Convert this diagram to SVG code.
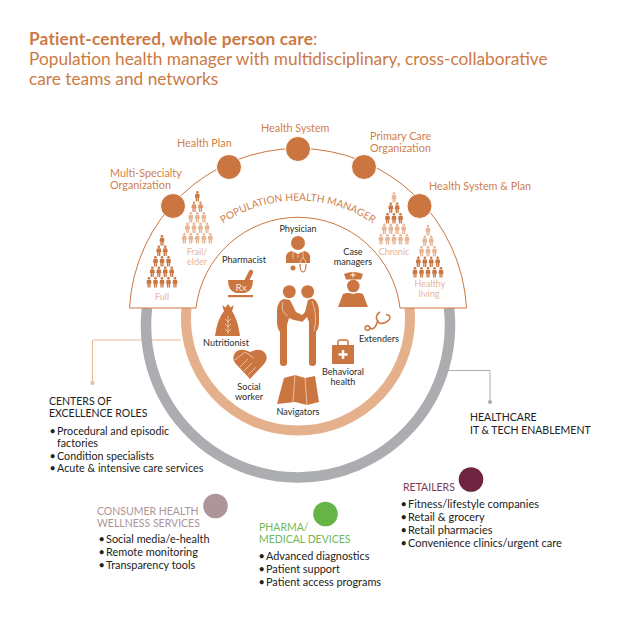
<svg xmlns="http://www.w3.org/2000/svg" xmlns:xlink="http://www.w3.org/1999/xlink" width="618" height="618" viewBox="0 0 618 618">
<style>
text{font-family:"Lato","Open Sans","Liberation Sans",sans-serif}
.title{font-size:17.300px;fill:#CC7A45}
.org{font-size:10.800px;fill:#CF7F4C}
.role{font-size:9.100px;fill:#2b2b2b;text-anchor:middle}
.seg{font-size:9px;text-anchor:middle;fill:#E7B593}
.head{font-size:10.500px;fill:#222}
.item{font-size:10.900px;fill:#222}
.dot{fill:#CB7640;stroke:#fff;stroke-width:1}
.ic{fill:#CB7640}
.wl{fill:none;stroke:#F3DCCB;stroke-width:.7}
.dk{fill:#CB7640}.lt{fill:#E7B593}
</style>
<defs>
<symbol id="p" viewBox="0 0 6 10.4" width="6" height="10.4" overflow="visible">
<circle cx="3" cy="1.3" r="1.300"/>
<path d="M1 3Q3 2.500 5 3L5.500 6.500H4.700L4.500 10.400H3.250V6.800H2.750V10.400H1.500L1.300 6.500H.5Z"/>
</symbol>
</defs>
<g id="title">
<text class="title" x="29" y="45"><tspan font-weight="700" letter-spacing=".17">Patient-centered, whole person care</tspan>:</text>
<text class="title" x="29" y="65">Population health manager with multidisciplinary, cross-collaborative</text>
<text class="title" x="29" y="85">care teams and networks</text>
</g>
<g id="connectors" fill="none">
<path d="M181 340H92.500V383" stroke="#E9B999" stroke-width="1"/>
<circle cx="92.500" cy="383" r="2" fill="#E9B999"/>
<path d="M448 370.500H490V402" stroke="#ABADB0" stroke-width="1"/>
<circle cx="490" cy="402" r="2" fill="#ABADB0"/>
</g>
<g id="it-ring"><path d="M147 308A152 152 0 1 0 449 308" fill="none" stroke="#ABADB0" stroke-width="10.500"/></g>
<g id="coe-ring"><path d="M186.500 308A112 112 0 1 0 409.500 308" fill="none" stroke="#E5B08C" stroke-width="10"/></g>
<g id="population-health-manager">
<path d="M129.500 308A168.750 168.750 0 0 1 466.500 308H400A102.700 102.700 0 0 0 196 308Z" fill="#fff" stroke="#CB7640" stroke-width="1"/>
<path id="phm-arc" d="M203.300 239.800A134 134 0 0 1 392.700 239.800" fill="none"/>
<text font-size="10.200" fill="#CF7F4C"><textPath href="#phm-arc" xlink:href="#phm-arc" startOffset="50%" text-anchor="middle">POPULATION HEALTH MANAGER</textPath></text>
</g>
<g id="org-multi-specialty"><circle class="dot" cx="173" cy="206" r="12.500"/><text class="org" x="110" y="177">Multi-Specialty</text><text class="org" x="110" y="189">Organization</text></g>
<g id="org-health-plan"><circle class="dot" cx="229" cy="167" r="12.500"/><text class="org" x="177" y="147">Health Plan</text></g>
<g id="org-health-system"><circle class="dot" cx="298" cy="149" r="12.500"/><text class="org" x="261" y="132">Health System</text></g>
<g id="org-primary-care"><circle class="dot" cx="364" cy="167" r="12.500"/><text class="org" x="370" y="140">Primary Care</text><text class="org" x="370" y="152">Organization</text></g>
<g id="org-health-system-plan"><circle class="dot" cx="419.500" cy="206" r="12.500"/><text class="org" x="429" y="190">Health System &amp; Plan</text></g>
<g id="seg-full">
<g class="dk"><use href="#p" xlink:href="#p" x="159" y="235"/><use href="#p" xlink:href="#p" x="155.800" y="245.500"/><use href="#p" xlink:href="#p" x="162.200" y="245.500"/><use href="#p" xlink:href="#p" x="152.500" y="256"/><use href="#p" xlink:href="#p" x="159" y="256"/><use href="#p" xlink:href="#p" x="165.500" y="256"/><use href="#p" xlink:href="#p" x="149.300" y="266.500"/><use href="#p" xlink:href="#p" x="155.800" y="266.500"/><use href="#p" xlink:href="#p" x="162.200" y="266.500"/><use href="#p" xlink:href="#p" x="168.700" y="266.500"/><use href="#p" xlink:href="#p" x="146" y="277"/><use href="#p" xlink:href="#p" x="152.500" y="277"/><use href="#p" xlink:href="#p" x="159" y="277"/><use href="#p" xlink:href="#p" x="165.500" y="277"/><use href="#p" xlink:href="#p" x="172" y="277"/></g>
<text class="seg" x="162" y="300">Full</text>
</g>
<g id="seg-frail">
<g class="dk"><use href="#p" xlink:href="#p" x="194.300" y="191"/></g>
<g fill="#DB9469"><use href="#p" xlink:href="#p" x="191" y="201.500"/><use href="#p" xlink:href="#p" x="197.500" y="201.500"/></g>
<g class="lt"><use href="#p" xlink:href="#p" x="187.800" y="212"/><use href="#p" xlink:href="#p" x="194.300" y="212"/><use href="#p" xlink:href="#p" x="200.800" y="212"/><use href="#p" xlink:href="#p" x="184.500" y="222.500"/><use href="#p" xlink:href="#p" x="191" y="222.500"/><use href="#p" xlink:href="#p" x="197.500" y="222.500"/><use href="#p" xlink:href="#p" x="204" y="222.500"/><use href="#p" xlink:href="#p" x="181.300" y="233"/><use href="#p" xlink:href="#p" x="187.800" y="233"/><use href="#p" xlink:href="#p" x="194.300" y="233"/><use href="#p" xlink:href="#p" x="200.800" y="233"/><use href="#p" xlink:href="#p" x="207.300" y="233"/></g>
<text class="seg" x="197" y="255">Frail/</text><text class="seg" x="197" y="265">elder</text>
</g>
<g id="seg-chronic">
<g class="lt"><use href="#p" xlink:href="#p" x="391" y="192"/></g>
<g class="dk"><use href="#p" xlink:href="#p" x="387.800" y="202.500"/><use href="#p" xlink:href="#p" x="394.200" y="202.500"/><use href="#p" xlink:href="#p" x="384.500" y="213"/><use href="#p" xlink:href="#p" x="391" y="213"/><use href="#p" xlink:href="#p" x="397.500" y="213"/></g>
<g class="lt"><use href="#p" xlink:href="#p" x="381.300" y="223.500"/><use href="#p" xlink:href="#p" x="387.800" y="223.500"/><use href="#p" xlink:href="#p" x="394.200" y="223.500"/><use href="#p" xlink:href="#p" x="400.700" y="223.500"/><use href="#p" xlink:href="#p" x="378" y="234"/><use href="#p" xlink:href="#p" x="384.500" y="234"/><use href="#p" xlink:href="#p" x="391" y="234"/><use href="#p" xlink:href="#p" x="397.500" y="234"/><use href="#p" xlink:href="#p" x="404" y="234"/></g>
<text class="seg" x="394" y="255">Chronic</text>
</g>
<g id="seg-healthy">
<g class="lt"><use href="#p" xlink:href="#p" x="425" y="225"/><use href="#p" xlink:href="#p" x="421.800" y="235.500"/><use href="#p" xlink:href="#p" x="428.200" y="235.500"/><use href="#p" xlink:href="#p" x="418.500" y="246"/><use href="#p" xlink:href="#p" x="425" y="246"/><use href="#p" xlink:href="#p" x="431.500" y="246"/></g>
<g class="dk"><use href="#p" xlink:href="#p" x="415.300" y="256.500"/><use href="#p" xlink:href="#p" x="421.800" y="256.500"/><use href="#p" xlink:href="#p" x="428.200" y="256.500"/><use href="#p" xlink:href="#p" x="434.700" y="256.500"/><use href="#p" xlink:href="#p" x="412" y="267"/><use href="#p" xlink:href="#p" x="418.500" y="267"/><use href="#p" xlink:href="#p" x="425" y="267"/><use href="#p" xlink:href="#p" x="431.500" y="267"/><use href="#p" xlink:href="#p" x="438" y="267"/></g>
<text class="seg" x="430" y="286.500">Healthy</text><text class="seg" x="429" y="296.500">living</text>
</g>
<g id="role-physician">
<circle class="ic" cx="298" cy="243" r="7"/>
<path class="ic" d="M286 263V257Q286 252 292 251L298 254L304 251Q310 252 310 257V263Z"/>
<path class="wl" d="M293 251V259M303 251V258Q300 259 300 264M303 258Q306 259 306 264M298 254V258"/>
<circle class="ic" cx="293" cy="268" r="2.500"/><path d="M300 264Q300 272 303 272Q306 272 306 264" fill="none" stroke="#CB7640" stroke-width="1.200"/>
<text class="role" x="298" y="232">Physician</text>
</g>
<g id="role-pharmacist">
<path d="M245 284L251 272" stroke="#CB7640" stroke-width="4.500" stroke-linecap="round"/>
<path class="ic" d="M228 280H253Q253 291 245 293H236Q228 291 228 280Z"/>
<rect class="ic" x="228" y="295" width="25" height="2.200"/>
<text x="241" y="290.500" font-size="10" fill="#F6E5D9" text-anchor="middle">Rx</text>
<text class="role" x="244" y="263">Pharmacist</text>
</g>
<g id="role-case-managers">
<path class="ic" d="M344 274Q353 270 363 274L361 279.500H346Z"/>
<circle class="ic" cx="353.300" cy="286" r="6.300"/>
<path class="ic" d="M343 294Q348 292 353 294Q359 292 363 294L368 307H338Z"/>
<path d="M353 272.500V277.500M350.500 275H355.500" stroke="#fff" stroke-width="1"/>
<text class="role" x="353" y="255">Case</text><text class="role" x="353" y="265">managers</text>
</g>
<g id="role-nutritionist">
<path class="ic" d="M222 305L225.500 307.500L228 304L230.500 307.500L234 305L232 311Q238 320 240 336H215Q217 320 224 311Z"/>
<path class="wl" d="M228 316V334M225 319L228 322L231 319M225 324L228 327L231 324M225 329L228 332L231 329"/>
<text class="role" x="226" y="346">Nutritionist</text>
</g>
<g id="role-extenders">
<path d="M380 312Q375 315 377 320Q379 325 384 323Q390 321 390 317Q389 314 386 315M378 320Q376 328 372 329L370 328" fill="none" stroke="#CB7640" stroke-width="1.500"/>
<circle cx="367.500" cy="328" r="2.300" fill="#fff" stroke="#CB7640" stroke-width="1.500"/>
<text class="role" x="379" y="342">Extenders</text>
</g>
<g id="role-behavioral-health">
<path d="M338 346V342Q338 340 340 340H346Q348 340 348 342V346" fill="none" stroke="#CB7640" stroke-width="1.500"/>
<rect class="ic" x="332" y="345" width="22" height="19" rx="1"/>
<path d="M343 350V359M338.500 354.500H347.500" stroke="#fff" stroke-width="2.500"/>
<text class="role" x="343" y="375">Behavioral</text><text class="role" x="343" y="385">health</text>
</g>
<g id="role-social-worker">
<path class="ic" d="M250 379L236 364Q231 358 235 353Q240 347 250 352Q260 347 265 353Q269 358 264 364Z"/>
<path class="wl" d="M235 360L245 352L254 358M240 367L248 359M244 371L252 363M248 375L256 367"/>
<text class="role" x="249" y="390">Social</text><text class="role" x="249" y="400">worker</text>
</g>
<g id="role-navigators">
<path class="ic" d="M277 404L284 378L295 375L305 378L315 376L319 402L307 405L295 402Z"/>
<path class="wl" d="M295 375L293 402M305 378L307 405"/>
<text class="role" x="298" y="415">Navigators</text>
</g>
<g id="care-team-figures">
<circle class="ic" cx="289.300" cy="291.700" r="6.500"/>
<circle class="ic" cx="307.700" cy="291.700" r="6.500"/>
<path class="ic" d="M284 299Q278 300 277 310V322Q277 328 280 332V363Q280 366 283.500 366Q287 366 287 363V325L289 318Q296 322 303 321L304 316L296 312L290 300Z"/>
<path class="ic" d="M312 298.500Q318 300 319 310V322Q319 328 316 332V363Q316 366 312.500 366Q309 366 309 363V322L307 317L302 322L298 319L305 312L308 300Z"/>
<path class="wl" d="M283 302Q280 312 288 316M312 301Q318 316 314 331"/>
</g>
<g id="coe-text">
<text class="head" x="49" y="405">CENTERS OF</text><text class="head" x="49" y="417">EXCELLENCE ROLES</text>
<text class="item" style="font-size:10.750px" x="49.500" y="435">•<tspan x="57">Procedural and episodic</tspan></text>
<text class="item" style="font-size:10.750px" x="57" y="447">factories</text>
<text class="item" style="font-size:10.750px" x="49.500" y="460">•<tspan x="57">Condition specialists</tspan></text>
<text class="item" style="font-size:10.750px" x="49.500" y="472">•<tspan x="57">Acute &amp; intensive care services</tspan></text>
</g>
<g id="it-text"><text class="head" x="470" y="421">HEALTHCARE</text><text class="head" x="470" y="434">IT &amp; TECH ENABLEMENT</text></g>
<g id="consumer-health">
<circle cx="215.500" cy="506" r="12.300" fill="#AE9599"/>
<text class="head" x="97" y="515" style="fill:#AE9599">CONSUMER HEALTH</text><text class="head" x="97" y="527" style="fill:#AE9599">WELLNESS SERVICES</text>
<text class="item" x="98.500" y="543">•<tspan x="106">Social media/e-health</tspan></text>
<text class="item" x="98.500" y="556">•<tspan x="106">Remote monitoring</tspan></text>
<text class="item" x="98.500" y="569">•<tspan x="106">Transparency tools</tspan></text>
</g>
<g id="pharma">
<circle cx="325.500" cy="514" r="12.300" fill="#66B445"/>
<text class="head" x="259" y="531" style="fill:#72B856">PHARMA/</text><text class="head" x="259" y="543" style="fill:#72B856">MEDICAL DEVICES</text>
<text class="item" x="258.500" y="560">•<tspan x="266">Advanced diagnostics</tspan></text>
<text class="item" x="258.500" y="573">•<tspan x="266">Patient support</tspan></text>
<text class="item" x="258.500" y="586">•<tspan x="266">Patient access programs</tspan></text>
</g>
<g id="retailers">
<circle cx="471" cy="479.500" r="12.300" fill="#6F2440"/>
<text class="head" x="403" y="491" style="fill:#7E3A55">RETAILERS</text>
<text class="item" style="font-size:11px" x="400.500" y="508">•<tspan x="408">Fitness/lifestyle companies</tspan></text>
<text class="item" style="font-size:11px" x="400.500" y="521">•<tspan x="408">Retail &amp; grocery</tspan></text>
<text class="item" style="font-size:11px" x="400.500" y="534">•<tspan x="408">Retail pharmacies</tspan></text>
<text class="item" style="font-size:11px" x="400.500" y="547">•<tspan x="408">Convenience clinics/urgent care</tspan></text>
</g>
</svg>
